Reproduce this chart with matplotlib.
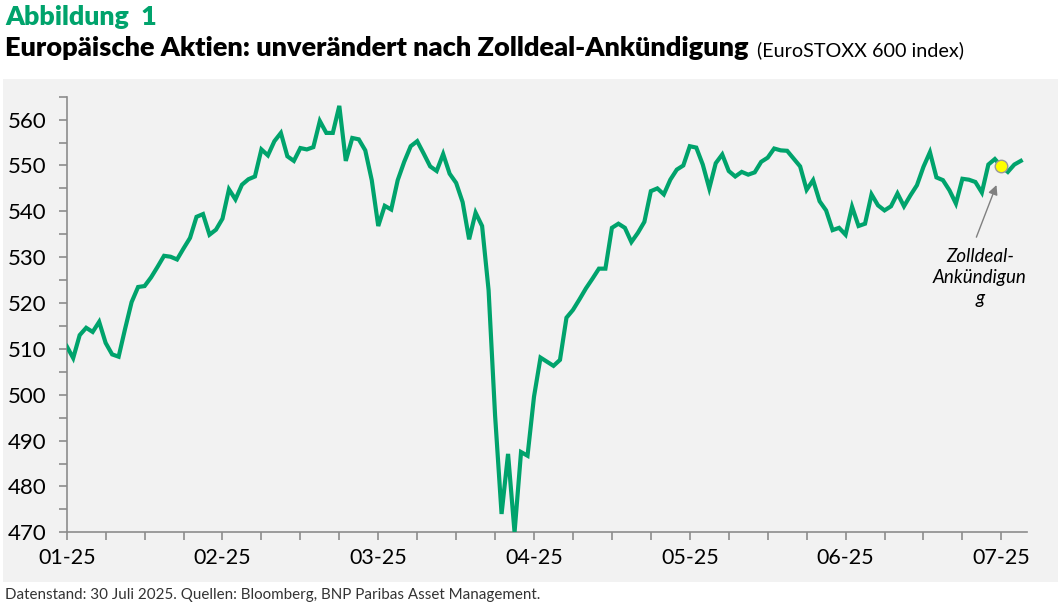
import numpy as np
import matplotlib.pyplot as plt
from matplotlib.patches import Rectangle

# EuroSTOXX 600, daily closes (2 Jan - 30 Jul 2025)
stoxx = [
    510.6, 508.0, 513.0, 514.6, 513.7, 515.9, 511.3, 508.8, 508.3, 514.4,
    520.2, 523.5, 523.7, 525.6, 527.9, 530.3, 530.1, 529.5, 531.9, 534.2,
    538.8, 539.4, 534.9, 536.0, 538.4, 544.8, 542.6, 545.8, 547.0, 547.6,
    553.5, 552.2, 555.3, 557.1, 552.0, 551.0, 553.8, 553.5, 554.0, 559.7,
    557.1, 557.1, 563.0, 551.0, 556.0, 555.7, 553.3, 546.8, 536.8, 541.2,
    540.4, 546.8, 550.8, 554.2, 555.3, 552.6, 549.8, 548.8, 552.5, 548.2,
    546.2, 542.0, 533.9, 539.7, 536.8, 522.8, 495.5, 474.0, 487.1, 470.0,
    487.5, 486.7, 499.6, 508.1, 507.2, 506.3, 507.6, 516.8, 518.5, 520.8,
    523.2, 525.3, 527.5, 527.5, 536.4, 537.3, 536.4, 533.3, 535.3, 537.7,
    544.4, 545.0, 543.7, 546.9, 549.1, 550.0, 554.2, 553.9, 550.2, 545.0,
    550.5, 552.4, 548.8, 547.6, 548.6, 548.0, 548.5, 550.8, 551.7, 553.7,
    553.3, 553.2, 551.5, 549.8, 544.7, 546.8, 542.2, 540.2, 535.9, 536.4,
    534.9, 541.0, 536.8, 537.3, 543.7, 541.3, 540.2, 541.1, 543.9, 541.1,
    543.5, 545.7, 549.7, 552.9, 547.4, 546.8, 544.6, 541.7, 547.1, 546.9,
    546.4, 544.1, 550.2, 551.4, 549.8, 548.6, 550.2, 551.0,
]
month_labels = ["01-25", "02-25", "03-25", "04-25", "05-25", "06-25", "07-25"]
deal_idx = 144          # point of the tariff deal announcement
y_labels = [470, 480, 490, 500, 510, 520, 530, 540, 550, 560]

GREEN = "#00a36c"
GREY = "#8c8c8c"
FONT = "Lato"

plt.rcParams["font.family"] = [FONT, "DejaVu Sans"]

fig = plt.figure(figsize=(10.58, 6.07), dpi=100)
fig.patch.set_facecolor("white")

# light grey panel behind the chart
fig.patches.append(Rectangle((3 / 1058, 25.3 / 607), 1, (581.7 - 79) / 607,
                             transform=fig.transFigure, facecolor="#f2f2f2",
                             edgecolor="none", zorder=-10))

ax = fig.add_axes([66.7 / 1058, 1 - 532.3 / 607,
                   (1027.3 - 66.7) / 1058, (532.3 - 96.7) / 607])
ax.set_facecolor("none")
ax.set_zorder(2)

x = np.arange(len(stoxx))
ax.plot(x, stoxx, color=GREEN, lw=3, solid_joinstyle="miter", zorder=3)
ax.plot(x[deal_idx], stoxx[deal_idx], "o", ms=9, mfc="#ffff00",
        mec="#999999", mew=1, zorder=4)

ax.set_xlim(0, 148)
ax.set_ylim(470, 565)

# axes styling
for s in ["top", "right"]:
    ax.spines[s].set_visible(False)
for s in ["left", "bottom"]:
    ax.spines[s].set_color(GREY)
    ax.spines[s].set_linewidth(1.2)

ax.set_yticks(y_labels)
ax.set_yticks(np.arange(475, 566, 10), minor=True)
ax.set_xticks(np.arange(0, 24 * len(month_labels), 24))
ax.set_xticklabels(month_labels)
ax.set_xticks(np.arange(0, 149, 6), minor=True)
ax.tick_params(axis="both", which="both", color=GREY, width=1.2, length=5.5)
ax.tick_params(axis="y", which="major", labelsize=16, pad=9)
ax.tick_params(axis="x", which="major", labelsize=15.5, pad=6)

# annotation
ax.annotate("", xy=(143.4, 546.3), xytext=(140.0, 533.8),
            arrowprops=dict(arrowstyle="-|>", color="#808080", lw=1,
                            mutation_scale=14))
ax.text(140.7, 525.6, "Zolldeal-\nAnkündigun\ng", ha="center", va="center",
        fontsize=13.5, style="italic", linespacing=1.3)

# titles and footer
fig.text(5 / 1058, 1 - 17 / 607, "Abbildung  1", color=GREEN,
         fontsize=19.3, fontweight="heavy", va="center", ha="left")
fig.text(5 / 1058, 1 - 48 / 607,
         "Europäische Aktien: unverändert nach Zolldeal-Ankündigung",
         fontsize=19.5, fontweight="heavy", va="center", ha="left")
fig.text(757 / 1058, 1 - 50 / 607, "(EuroSTOXX 600 index)",
         fontsize=14.2, va="center", ha="left")
fig.text(5 / 1058, 1 - 595 / 607,
         "Datenstand: 30 Juli 2025. Quellen: Bloomberg, BNP Paribas Asset Management.",
         fontsize=10.9, color="#333333", va="center", ha="left")

fig.savefig("out.png", dpi=100)
